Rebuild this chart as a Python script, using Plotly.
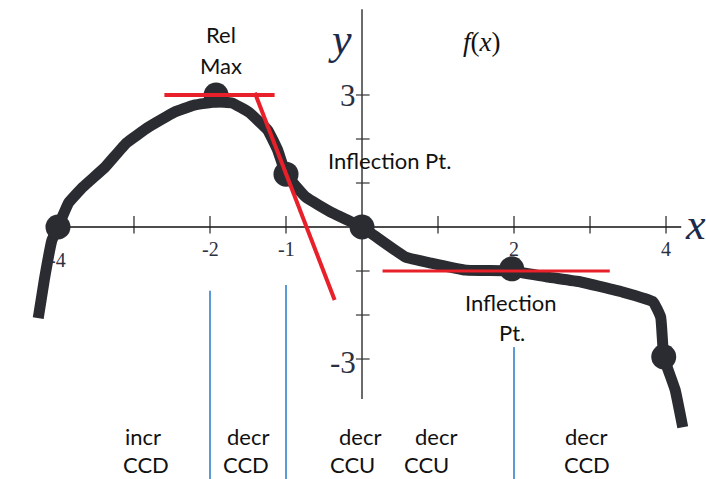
import plotly.graph_objects as go

# ---- data -------------------------------------------------------------
# hand-traced curve of f(x)
curve_x = [-4.26, -4.18, -4.08, -4.0, -3.86, -3.67, -3.38, -3.10, -2.81, -2.47,
           -2.21, -1.92, -1.71, -1.49, -1.24, -1.11, -1.0, -0.74, -0.39, 0.0,
           0.57, 0.91, 1.37, 1.97, 2.45, 2.88, 3.43, 3.83, 3.93, 3.97, 4.12, 4.22]
curve_y = [-2.07, -1.20, -0.30, 0.0, 0.55, 0.91, 1.36, 1.91, 2.27, 2.61,
           2.77, 2.84, 2.82, 2.61, 2.20, 1.75, 1.2, 0.68, 0.32, 0.0,
           -0.68, -0.82, -0.98, -1.0, -1.14, -1.25, -1.48, -1.70, -2.05, -2.95, -3.70, -4.55]

# marked points: root, relative max, inflection, origin, inflection, end
point_x = [-4.0, -1.92, -1.0, 0.0, 1.97, 3.97]
point_y = [0.0, 3.0, 1.2, 0.0, -0.95, -2.95]

# tangent segments
max_tangent_x = [-2.6, -1.15]
max_tangent_y = [3.0, 3.0]
steep_tangent_x = [-1.41, -0.36]
steep_tangent_y = [3.05, -1.66]
flat_tangent_x = [0.27, 3.26]
flat_tangent_y = [-1.0, -1.0]

# interval dividers (x positions) and their top ends
divider_x = [-2.0, -1.0, 2.0]
divider_top = [-1.45, -1.32, -2.73]

# axis ticks and labels
x_ticks = [-4, -3, -2, -1, 1, 2, 3, 4]
x_tick_labels = {-4: "-4", -2: "-2", -1: "-1", 2: "2", 4: "4"}
y_ticks = [-3, -2, -1, 1, 2, 3]
y_tick_labels = {3: "3", -3: "-3"}

# interval descriptions (monotonicity, concavity)
intervals_top = ["incr", "decr", "decr", "decr", "decr"]
intervals_bottom = ["CCD", "CCD", "CCU", "CCU", "CCD"]

# ---- figure -----------------------------------------------------------
W, H = 706, 479
X_RANGE = [-4.763, 4.526]
Y_RANGE = [-5.727, 5.159]

INK = "#2a2c31"
RED = "#e8202a"
BLUE = "#5b9bd5"
SERIF = "Liberation Serif"
SANS = "Lato"
TEXT_SIZE = 22

fig = go.Figure()

shapes = []
# axes
shapes.append(dict(type="line", x0=-4.13, x1=4.2, y0=0, y1=0,
                   line=dict(color="#111111", width=1.5), layer="below"))
shapes.append(dict(type="line", x0=0, x1=0, y0=-3.91, y1=4.95,
                   line=dict(color="#3a3a3a", width=1.5), layer="below"))
for t in x_ticks:
    shapes.append(dict(type="line", x0=t, x1=t, y0=-0.15, y1=0.25,
                       line=dict(color="#222222", width=1.2), layer="below"))
for t in y_ticks:
    shapes.append(dict(type="line", x0=-0.08, x1=0.1, y0=t, y1=t,
                       line=dict(color="#333333", width=1.2), layer="below"))
# interval dividers
for dx, top in zip(divider_x, divider_top):
    shapes.append(dict(type="line", x0=dx, x1=dx, y0=Y_RANGE[0], y1=top,
                       line=dict(color=BLUE, width=2), layer="below"))

# curve
fig.add_trace(go.Scatter(x=curve_x, y=curve_y, mode="lines",
                         line=dict(color=INK, width=11, shape="spline", smoothing=0.3),
                         hoverinfo="skip"))
fig.add_trace(go.Scatter(x=point_x, y=point_y, mode="markers",
                         marker=dict(color=INK, size=25), hoverinfo="skip"))
# tangents
for tx, ty, w in [(max_tangent_x, max_tangent_y, 4),
                  (steep_tangent_x, steep_tangent_y, 4),
                  (flat_tangent_x, flat_tangent_y, 3)]:
    fig.add_trace(go.Scatter(x=tx, y=ty, mode="lines",
                             line=dict(color=RED, width=w), hoverinfo="skip"))

ann = []


def px_text(text, px, py, size=TEXT_SIZE, family=SANS, color="#111111", anchor="center"):
    ann.append(dict(text=text, x=px / W, y=1 - py / H, xref="paper", yref="paper",
                    xanchor=anchor, yanchor="middle", showarrow=False, borderpad=0,
                    font=dict(family=family, size=size, color=color)))


# tick labels
for t, lab in x_tick_labels.items():
    ann.append(dict(text=lab, x=t, y=0, xref="x", yref="y", showarrow=False,
                    xanchor="center", yanchor="middle",
                    yshift=-33 if t == -4 else -22,
                    font=dict(family=SERIF, size=20, color="#2b3040")))
for t, lab in y_tick_labels.items():
    ann.append(dict(text=lab, x=0, y=t, xref="x", yref="y", showarrow=False,
                    xanchor="right", yanchor="middle", xshift=-4,
                    yshift=-3 if t < 0 else 0,
                    font=dict(family=SERIF, size=31, color="#2b3040")))

# axis names and function name
ann.append(dict(text="<i>y</i>", x=0, y=0, xref="x", yref="y", showarrow=False,
                xanchor="center", yanchor="middle", xshift=-22, yshift=188,
                font=dict(family=SERIF, size=44, color="#1c2b4a")))
ann.append(dict(text="<i>x</i>", x=4.2, y=0, xref="x", yref="y", showarrow=False,
                xanchor="left", yanchor="middle", xshift=2, yshift=3,
                font=dict(family=SERIF, size=44, color="#1c2b4a")))
px_text("<i>f</i>(<i>x</i>)", 482, 42, 27, family=SERIF)

# point descriptions
px_text("Rel", 221, 35)
px_text("Max", 221, 65)
px_text("Inflection Pt.", 327, 160, anchor="left")
px_text("Inflection", 511, 302)
px_text("Pt.", 512, 332)

# interval descriptions
col_top = [143, 248, 360, 436, 586]
col_bot = [146, 246, 352, 426, 587]
for s, cx in zip(intervals_top, col_top):
    px_text(s, cx, 436)
for s, cx in zip(intervals_bottom, col_bot):
    px_text(s, cx, 464)

fig.update_layout(
    width=W, height=H,
    margin=dict(l=0, r=0, t=0, b=0),
    paper_bgcolor="white", plot_bgcolor="white",
    showlegend=False,
    xaxis=dict(visible=False, range=X_RANGE, fixedrange=True),
    yaxis=dict(visible=False, range=Y_RANGE, fixedrange=True),
    shapes=shapes,
    annotations=ann,
)

fig.write_html("out.html")
